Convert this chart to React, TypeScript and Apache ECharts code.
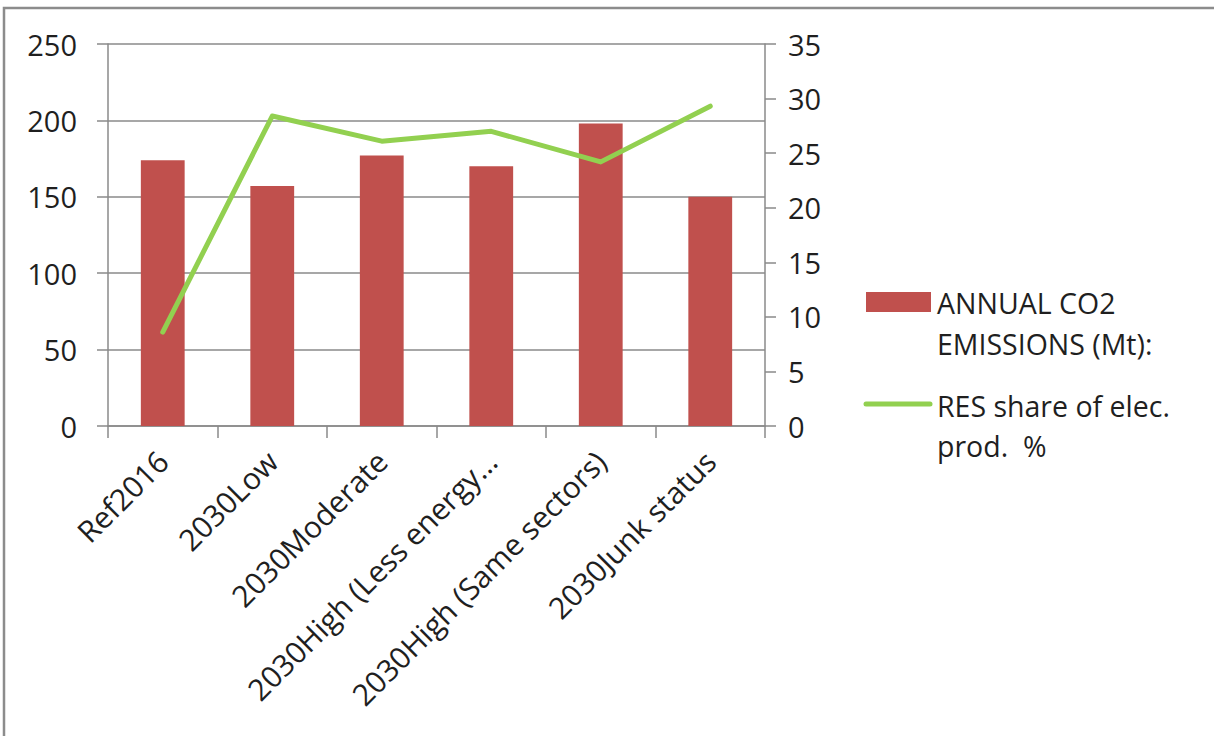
import React, { useEffect, useRef } from "react";
import * as echarts from "echarts";

const categories = [
  "Ref2016",
  "2030Low",
  "2030Moderate",
  "2030High (Less energy…",
  "2030High (Same sectors)",
  "2030Junk status",
];
const co2Emissions = [174, 157, 177, 170, 198, 150];
const resShare = [8.6, 28.4, 26.1, 27.0, 24.2, 29.3];
const leftTicks = { min: 0, max: 250, interval: 50 };
const rightTicks = { min: 0, max: 35, interval: 5 };
const barName = "ANNUAL CO2\nEMISSIONS (Mt):";
const lineName = "RES share of elec.\nprod.  %";

const FONT = "'Open Sans', 'Noto Sans', sans-serif";
const TEXT = "#1f1f1f";
const GRID = "#8a8a8a";

export default function App() {
  const ref = useRef<HTMLDivElement>(null);
  useEffect(() => {
    if (!ref.current) return;
    const chart = echarts.init(ref.current, null, { renderer: "svg" });
    chart.setOption({
      animation: false,
      backgroundColor: "#ffffff",
      textStyle: { fontFamily: FONT },
      grid: { left: 108, right: 449, top: 44, bottom: 310, containLabel: false },
      xAxis: {
        type: "category",
        data: categories,
        axisLine: { show: true, lineStyle: { color: GRID, width: 1.5 } },
        axisTick: { show: true, length: 12, lineStyle: { color: GRID, width: 1.5 } },
        axisLabel: {
          rotate: 45,
          interval: 0,
          margin: 30,
          color: TEXT,
          fontSize: 30,
          fontFamily: FONT,
        },
      },
      yAxis: [
        {
          type: "value",
          min: leftTicks.min,
          max: leftTicks.max,
          interval: leftTicks.interval,
          axisLine: { show: true, lineStyle: { color: GRID, width: 1.5 } },
          axisTick: { show: true, length: 11, lineStyle: { color: GRID, width: 1.5 } },
          splitLine: { show: true, lineStyle: { color: GRID, width: 1.5 } },
          axisLabel: { color: TEXT, fontSize: 29, fontFamily: FONT, margin: 31 },
        },
        {
          type: "value",
          min: rightTicks.min,
          max: rightTicks.max,
          interval: rightTicks.interval,
          position: "right",
          axisLine: { show: true, lineStyle: { color: GRID, width: 1.5 } },
          axisTick: { show: true, length: 11, lineStyle: { color: GRID, width: 1.5 } },
          splitLine: { show: false },
          axisLabel: { color: TEXT, fontSize: 29, fontFamily: FONT, margin: 23 },
        },
      ],
      series: [
        {
          name: barName,
          type: "bar",
          data: co2Emissions,
          yAxisIndex: 0,
          barWidth: "40%",
          itemStyle: { color: "#C0504D" },
        },
        {
          name: lineName,
          type: "line",
          data: resShare,
          yAxisIndex: 1,
          symbol: "none",
          lineStyle: { color: "#92D050", width: 5, cap: "round", join: "round" },
          itemStyle: { color: "#92D050" },
        },
      ],
      graphic: [
        {
          type: "rect",
          shape: { x: 4, y: 8, width: 1400, height: 900 },
          style: { fill: "none", stroke: "#8c8c8c", lineWidth: 2.5 },
          silent: true,
        },
        {
          type: "rect",
          shape: { x: 866, y: 292, width: 65, height: 20 },
          style: { fill: "#C0504D" },
        },
        {
          type: "text",
          x: 937,
          y: 282,
          style: {
            text: barName,
            font: `28.5px ${FONT}`,
            fill: TEXT,
            lineHeight: 41,
          },
        },
        {
          type: "line",
          shape: { x1: 866, y1: 404, x2: 930, y2: 404 },
          style: { stroke: "#92D050", lineWidth: 5, lineCap: "round" },
        },
        {
          type: "text",
          x: 937,
          y: 386,
          style: {
            text: lineName,
            font: `28.5px ${FONT}`,
            fill: TEXT,
            lineHeight: 40,
          },
        },
      ],
    });
    return () => chart.dispose();
  }, []);
  return (
    <div
      ref={ref}
      style={{ position: "fixed", left: 0, top: 0, width: 1214, height: 736 }}
    />
  );
}
